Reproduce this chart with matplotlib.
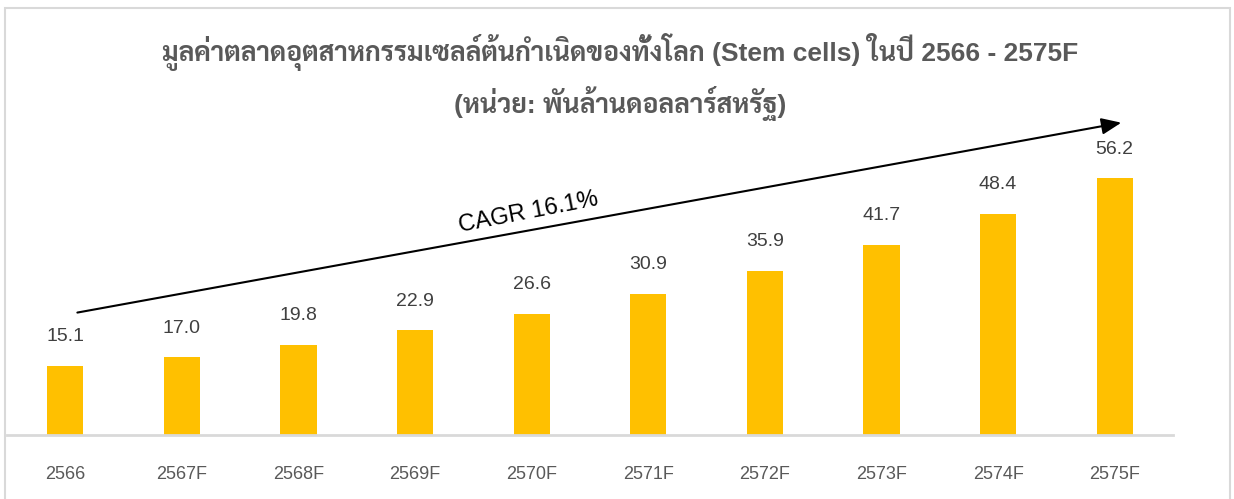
import matplotlib
matplotlib.use("Agg")
import matplotlib.pyplot as plt
from matplotlib import font_manager
from matplotlib.ft2font import FT2Font
from matplotlib.patches import Rectangle

# ---- data ----
categories = ["2566", "2567F", "2568F", "2569F", "2570F", "2571F", "2572F", "2573F", "2574F", "2575F"]
values = [15.1, 17.0, 19.8, 22.9, 26.6, 30.9, 35.9, 41.7, 48.4, 56.2]
title_line1 = "มูลค่าตลาดอุตสาหกรรมเซลล์ต้นกำเนิดของทั้งโลก (Stem cells) ในปี 2566 - 2575F"
title_line2 = "(หน่วย: พันล้านดอลลาร์สหรัฐ)"
cagr_label = "CAGR 16.1%"


def find_thai_font():
    info = {}
    for f in font_manager.fontManager.ttflist:
        try:
            cm = FT2Font(f.fname).get_charmap()
        except Exception:
            continue
        if 0x0E01 in cm and 0x0E33 in cm:
            w = f.weight if isinstance(f.weight, int) else (700 if "bold" in str(f.weight).lower() else 400)
            info.setdefault(f.name, set()).add(w)
    if not info:
        return None, ""
    bold_ok = [n for n, ws in info.items() if max(ws) >= 600]
    pref = ["Tahoma", "Leelawadee UI", "Noto Sans Thai", "Noto Sans Thai UI", "Sarabun", "Loma", "Garuda"]
    for p in pref:
        if p in bold_ok:
            return p, ""
    if bold_ok:
        return bold_ok[0], ""
    for p in pref:
        if p in info:
            return p, ""
    return list(info)[0], ""


thai, _ = find_thai_font()
fam = ["Liberation Sans"] + ([thai] if thai else []) + ["DejaVu Sans"]

W, H = 1234, 499
fig = plt.figure(figsize=(W / 100, H / 100), dpi=100)
fig.patch.set_facecolor("white")

# outer border
fig.patches.append(Rectangle((5 / W, -0.05), (1230 - 5) / W, 1.05 - 8 / H,
                             transform=fig.transFigure, fill=False,
                             edgecolor="#D9D9D9", linewidth=1.5))

ax = fig.add_axes([7 / W, 1 - 435 / H, (1173 - 7) / W, (435 - 161) / H])
x = list(range(len(categories)))
bars = ax.bar(x, values, width=0.31, color="#FFC000")
ax.set_xlim(-0.5, len(categories) - 0.5)
ax.set_ylim(0, 60)

for xi, v in zip(x, values):
    ax.annotate(f"{v:.1f}", (xi, v), xytext=(0, 15), textcoords="offset points",
                ha="center", va="bottom", fontsize=14, color="#404040",
                family=fam)

ax.set_xticks(x)
ax.set_xticklabels(categories, fontsize=13, color="#595959", family=fam)
ax.tick_params(axis="x", length=0, pad=22)
ax.set_yticks([])
for s in ["top", "left", "right"]:
    ax.spines[s].set_visible(False)
ax.spines["bottom"].set_color("#D9D9D9")
ax.spines["bottom"].set_linewidth(2)

# CAGR arrow
ax.annotate("", xy=(9.08, 68.5), xytext=(0.08, 26.7),
            arrowprops=dict(arrowstyle="-|>,head_length=1.2,head_width=0.5",
                            color="black", lw=1.5),
            annotation_clip=False)
ax.text(3.97, 48.8, cagr_label, rotation=11, fontsize=17, color="black",
        ha="center", va="center", family=fam, rotation_mode="anchor")

fig.text(0.5 * (160 + 1080) / W, 1 - 52 / H, title_line1, ha="center", va="center",
         fontsize=19, fontweight="bold", color="#595959", family=fam)
fig.text(0.5 * (450 + 790) / W, 1 - 103 / H, title_line2, ha="center", va="center",
         fontsize=19, fontweight="bold", color="#595959", family=fam)

fig.savefig("out.png", dpi=100)
